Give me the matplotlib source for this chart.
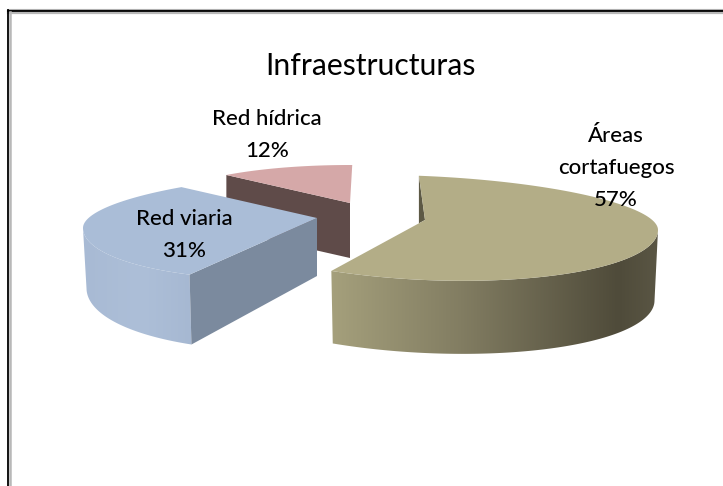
import numpy as np
import matplotlib
matplotlib.use('Agg')
import matplotlib.pyplot as plt
from matplotlib.colors import LinearSegmentedColormap
from matplotlib.patches import Polygon

plt.rcParams['font.family'] = ['Lato', 'DejaVu Sans']

# Datos del grafico
categorias = ['Áreas\ncortafuegos', 'Red viaria', 'Red hídrica']
porcentajes = [57, 31, 12]
titulo = 'Infraestructuras'

fig = plt.figure(figsize=(7.23, 4.86), dpi=100)
ax = fig.add_axes([0, 0, 1, 1])
ax.set_xlim(0, 723)
ax.set_ylim(486, 0)
ax.axis('off')

# Marco: solo lados superior e izquierdo
ax.plot([7.5, 723], [10.8, 10.8], color='black', lw=1.5)
ax.plot([7.5, 723], [9, 9], color='#b0b0b0', lw=0.8)
ax.plot([7.5, 723], [12.8, 12.8], color='#b8b8b8', lw=1.6)
ax.plot([7.5, 7.5], [10, 486], color='black', lw=1.3)
ax.plot([10, 10], [12, 486], color='#b8b8b8', lw=1.8)


def arco(ang, g):
    # angulo en grados, horario desde las 12, sobre la elipse de la porcion
    t = np.radians(ang)
    s, c = np.sin(t), np.cos(t)
    ry = np.where(c >= 0, g['ry_t'], g['ry_b'])
    return g['cx'] + g['rx'] * s, g['cy'] - ry * c + g['tilt'] * s


def profundidad(y, g):
    return g['prof'] + g['k'] * (y - g['cy'])


def relleno(poly, colores, x0, x1, z):
    # degradado horizontal recortado por el poligono
    cmap = LinearSegmentedColormap.from_list('lado', colores)
    patch = Polygon(poly, closed=True, facecolor='none', edgecolor='none', zorder=z)
    ax.add_patch(patch)
    im = ax.imshow(np.linspace(0, 1, 256).reshape(1, -1), cmap=cmap, aspect='auto',
                   extent=(x0, x1, 486, 0), zorder=z)
    im.set_clip_path(patch)
    ax.set_xlim(0, 723)
    ax.set_ylim(486, 0)


# Geometria de cada porcion (perspectiva estimada del original)
tan = dict(cx=425, cy=220, rx=233, ry_t=44, ry_b=60, tilt=10, ini=-1.5, prof=70, k=0.05)
azul = dict(cx=317, cy=218, rx=234, ry_t=45, ry_b=61, tilt=-10, ini=213, prof=58, k=0.21)
rojo = dict(cx=350, cy=203, rx=183, ry_t=38, ry_b=38, tilt=0, ini=317.5, prof=55, k=0.0)
esc_base = 0.985


def porcion(valor, g):
    angs = np.linspace(g['ini'], g['ini'] + valor * 3.6, 200)
    x, y = arco(angs, g)
    return angs, x, y


def base(x, y, g):
    # borde inferior de la pared
    return g['cx'] + (x - g['cx']) * esc_base, y + profundidad(y, g)


# Red hidrica: se dibuja primero, queda detras
ang, x, y = porcion(porcentajes[2], rojo)
bx, by = rojo['cx'], rojo['cy']
pared = [(x[0], y[0]), (bx, by), (bx, by + rojo['prof']), (x[0], y[0] + rojo['prof'])]
ax.add_patch(Polygon(pared, closed=True, facecolor='#5f4b49', edgecolor='none', zorder=2))
ax.add_patch(Polygon(np.r_[[(bx, by)], np.c_[x, y]], closed=True,
                     facecolor='#d5a8a8', edgecolor='none', zorder=3))

# Red viaria: el lado curvo visible llega hasta el extremo izquierdo
ang, x, y = porcion(porcentajes[1], azul)
bx, by = azul['cx'], azul['cy']
frente = ang <= 270
xb, yb = base(x, y, azul)
lado = np.r_[np.c_[x[frente], y[frente]], np.c_[xb[frente], yb[frente]][::-1]]
relleno(lado, ['#a8bad4', '#adbfd8', '#a5b7d1'], 83, 200, 4)
pared = [(x[0], y[0]), (bx, by), (bx, by + azul['prof']), (xb[0], yb[0])]
ax.add_patch(Polygon(pared, closed=True, facecolor='#7b8a9e', edgecolor='none', zorder=5))
ax.add_patch(Polygon(np.r_[[(bx, by)], np.c_[x, y]], closed=True,
                     facecolor='#aabdd7', edgecolor='none', zorder=6))

# Areas cortafuegos: solo se ve la parte frontal de la pared
ang, x, y = porcion(porcentajes[0], tan)
bx, by = tan['cx'], tan['cy']
frente = ang >= 90
xb, yb = base(x[frente], y[frente], tan)
lado = np.r_[np.c_[x[frente], y[frente]], np.c_[xb, yb][::-1]]
relleno(lado, [(0, '#a5a07c'), (0.4, '#827d62'), (0.88, '#4f4b3a'), (1, '#5a5644')], 330, 658, 7)

# pequena pared interior junto al inicio de la porcion
px = x[0]
py = by + (y[-1] - by) * (bx - px) / (bx - x[-1])
ax.add_patch(Polygon([(x[0], y[0]), (bx, by), (px, py)], closed=True,
                     facecolor='#5d5945', edgecolor='none', zorder=8))
ax.add_patch(Polygon(np.r_[[(bx, by)], np.c_[x, y]], closed=True,
                     facecolor='#b3ad87', edgecolor='none', zorder=9))

# Textos
ax.text(370, 66, titulo, fontsize=21.7, ha='center', va='center', color='black', zorder=10)
ax.text(267, 135, f'{categorias[2]}\n{porcentajes[2]}%', fontsize=16, ha='center',
        va='center', linespacing=1.72, fontweight='medium', color='black', zorder=10)
ax.text(184, 235, f'{categorias[1]}\n{porcentajes[1]}%', fontsize=16, ha='center',
        va='center', linespacing=1.72, fontweight='medium', color='black', zorder=10)
ax.text(616, 168, f'{categorias[0]}\n{porcentajes[0]}%', fontsize=16, ha='center',
        va='center', linespacing=1.72, fontweight='medium', color='black', zorder=10)

fig.savefig('out.png', dpi=100, facecolor='white')
